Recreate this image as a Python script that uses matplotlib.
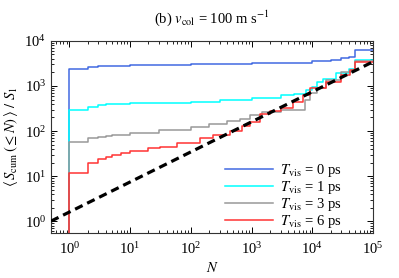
import matplotlib
matplotlib.use("Agg")
import matplotlib.pyplot as plt
import numpy as np
from matplotlib.ticker import LogLocator, NullFormatter

plt.rcParams['font.family'] = ['Liberation Serif', 'DejaVu Serif']
plt.rcParams['mathtext.fontset'] = 'stix'

# ---- data ----
labels = [r"$T_{\rm vis}$ = 0 ps", r"$T_{\rm vis}$ = 1 ps",
          r"$T_{\rm vis}$ = 3 ps", r"$T_{\rm vis}$ = 6 ps"]
colors = ["#4169E1", "#00FFFF", "#999999", "#FF3333"]

N_blue = [1, 2, 3, 5, 10, 30, 100, 1000, 3000, 10000, 20000, 30000, 40000, 50000, 100000]
S_blue = [2350, 2640, 2750, 2800, 2880, 2950, 3050, 3150, 3300, 3500, 3700, 4100, 4500, 6200, 6200]

N_cyan = [1, 2, 3, 4, 5, 10, 30, 100, 300, 1000, 3000, 5000, 8000, 10000, 12000, 15000, 25000, 40000, 50000, 100000]
S_cyan = [293, 347, 377, 390, 400, 410, 426, 450, 490, 545, 620, 670, 800, 950, 1200, 1400, 1900, 2400, 3700, 3700]

N_grey = [1, 2, 3, 4, 5, 10, 30, 100, 200, 400, 650, 950, 1500, 3000, 7000, 7600, 9000, 12000, 17000, 30000, 45000, 50000, 100000]
S_grey = [56, 69, 75, 78, 82, 90, 104, 120, 140, 165, 182, 230, 260, 290, 295, 490, 690, 900, 1360, 2080, 2300, 3600, 3600]

N_red = [1, 2, 3, 4, 5, 7, 10, 20, 31, 60, 142, 230, 440, 700, 950, 1400, 2000, 3000, 4800, 7000, 9100, 17000, 30000, 42000, 50000, 100000]
S_red = [11.8, 20, 23.6, 27, 30, 33, 36, 42, 45, 55, 69, 81, 101, 130, 162, 235, 280, 330, 450, 630, 910, 1250, 1760, 2300, 3450, 3450]

series_N = [N_blue, N_cyan, N_grey, N_red]
series_S = [S_blue, S_cyan, S_grey, S_red]

# reference power law
ref_coef = 1.6
ref_exp = 2.0 / 3.0
ref_N = [0.5, 1e5]

fig = plt.figure(figsize=(3.99, 2.78), dpi=100)
ax = fig.add_axes([0.128, 0.162, 0.807, 0.691])

for Ns, Ss, c, lab in zip(series_N, series_S, colors, labels):
    x = [Ns[0]] + list(Ns)
    y = [1e-3] + list(Ss)
    ax.plot(x, y, drawstyle='steps-post', color=c, lw=1.1, label=lab)

rN = np.array(ref_N)
ax.plot(rN, ref_coef * rN ** ref_exp, color='black', lw=2.3, ls=(0, (2.6, 1.6)), zorder=5)

ax.set_xscale('log')
ax.set_yscale('log')
ax.set_xlim(0.5, 1e5)
ax.set_ylim(0.55, 1e4)

ax.xaxis.set_major_locator(LogLocator(base=10, numticks=10))
ax.xaxis.set_minor_locator(LogLocator(base=10, subs=np.arange(2, 10), numticks=20))
ax.yaxis.set_major_locator(LogLocator(base=10, numticks=10))
ax.yaxis.set_minor_locator(LogLocator(base=10, subs=np.arange(2, 10), numticks=20))
ax.xaxis.set_minor_formatter(NullFormatter())
ax.yaxis.set_minor_formatter(NullFormatter())

ax.tick_params(which='both', direction='in', top=True, right=True, labelsize=10.5)
ax.tick_params(which='major', length=4.5, width=0.7)
ax.tick_params(axis='x', which='major', pad=6)
ax.tick_params(which='minor', length=2.2, width=0.6)
for sp in ax.spines.values():
    sp.set_linewidth(0.8)
    sp.set_color('#333333')

ax.set_xlabel(r"$N$", fontsize=10.5, labelpad=3)
ax.set_ylabel(r"$\langle\, S_{\rm cum}\,(\leq N)\,\rangle\ /\ S_1$", fontsize=10.5, labelpad=3)
ax.set_title(r"(b) $v_{\rm col}$ = 100 m s$^{-1}$", fontsize=10.5, pad=13)

leg = ax.legend(loc='lower right', frameon=False, fontsize=10.5, handlelength=3.3,
                labelspacing=0.0, handletextpad=0.45, borderaxespad=0.0,
                bbox_to_anchor=(0.92, -0.015))

fig.savefig("out.png", dpi=100)
